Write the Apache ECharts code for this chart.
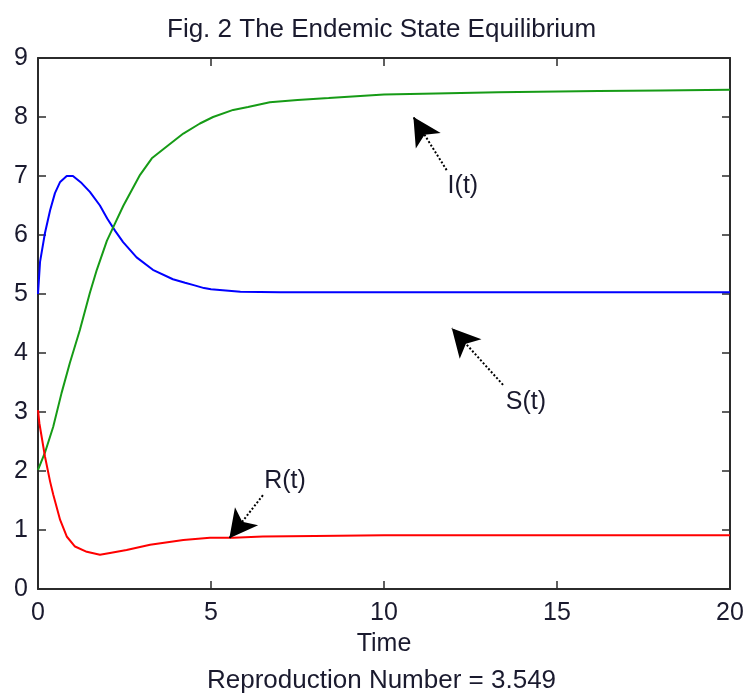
<!DOCTYPE html>
<html>
<head>
<meta charset="utf-8">
<script src="https://cdn.jsdelivr.net/npm/echarts@6/dist/echarts.min.js"></script>
<style>
html,body{margin:0;padding:0;background:#fff;}
#chart{width:747px;height:696px;}
</style>
</head>
<body>
<div id="chart"></div>
<script>
// ---- data ----
var titleText = 'Fig. 2 The Endemic State Equilibrium';
var xName = 'Time';
var footnote = 'Reproduction Number = 3.549';

var sTime  = [0, 0.06, 0.2, 0.35, 0.49, 0.64, 0.83, 1.01, 1.26, 1.5, 1.79, 2.0, 2.23, 2.46, 2.85, 3.32, 3.9, 4.25, 4.5, 4.8, 5.0, 5.85, 7, 10, 14, 20];
var sValue = [5.0, 5.55, 6.03, 6.42, 6.71, 6.90, 7.0, 7.0, 6.88, 6.73, 6.5, 6.28, 6.07, 5.88, 5.62, 5.41, 5.25, 5.19, 5.15, 5.10, 5.08, 5.04, 5.03, 5.03, 5.03, 5.03];

var iTime  = [0, 0.2, 0.44, 0.68, 0.92, 1.21, 1.5, 1.7, 1.99, 2.23, 2.47, 2.95, 3.29, 3.72, 4.2, 4.68, 5.06, 5.64, 6.07, 6.7, 7.5, 8.4, 10, 11.5, 13.3, 16.2, 18, 20];
var iValue = [2.02, 2.31, 2.75, 3.32, 3.83, 4.39, 5.02, 5.41, 5.9, 6.2, 6.5, 7.02, 7.30, 7.50, 7.72, 7.89, 8.0, 8.12, 8.17, 8.25, 8.29, 8.32, 8.38, 8.40, 8.42, 8.44, 8.45, 8.46];

var rTime  = [0, 0.04, 0.2, 0.35, 0.44, 0.64, 0.83, 1.07, 1.41, 1.79, 2.08, 2.56, 3.24, 4.2, 4.97, 5.64, 6.5, 8, 10, 14, 20];
var rValue = [3.03, 2.81, 2.25, 1.82, 1.6, 1.17, 0.89, 0.72, 0.63, 0.58, 0.61, 0.66, 0.75, 0.83, 0.87, 0.87, 0.89, 0.90, 0.91, 0.91, 0.91];

var xTicks = [0, 5, 10, 15, 20];
var yTicks = [0, 1, 2, 3, 4, 5, 6, 7, 8, 9];

// annotations: label, label position, arrow tail, arrow head
var annLabels = ['I(t)', 'S(t)', 'R(t)'];
var annText   = [[12.28, 6.83], [14.1, 3.17], [7.14, 1.83]];
var annTail   = [[11.81, 7.1], [13.44, 3.46], [6.5, 1.59]];
var annHead   = [[10.85, 8.0], [11.96, 4.42], [5.53, 0.86]];

function zip(a, b) { return a.map(function (v, i) { return [v, b[i]]; }); }

var FONT = 'Liberation Sans';
var AX = '#2b2b2b';
var TXT = '#1a1a2e';

var chart = echarts.init(document.getElementById('chart'));

function axisCommon(show) {
  return {
    show: true,
    axisLine: { show: true, onZero: false, lineStyle: { color: AX, width: 2 } },
    axisTick: { show: true, inside: true, length: 8, lineStyle: { color: AX, width: 1.5 } },
    splitLine: { show: false },
    axisLabel: { show: show, color: TXT, fontFamily: FONT, fontSize: 25 }
  };
}

var xb = Object.assign({ type: 'value', min: xTicks[0], max: xTicks[xTicks.length - 1], interval: 5, position: 'bottom', gridIndex: 0,
  name: xName, nameLocation: 'middle', nameGap: 43,
  nameTextStyle: { color: TXT, fontFamily: FONT, fontSize: 25 } }, axisCommon(true));
xb.axisLabel.margin = 12;
var xt = Object.assign({ type: 'value', min: xTicks[0], max: xTicks[xTicks.length - 1], interval: 5, position: 'top', gridIndex: 0 }, axisCommon(false));
var yl = Object.assign({ type: 'value', min: yTicks[0], max: yTicks[yTicks.length - 1], interval: 1, position: 'left', gridIndex: 0 }, axisCommon(true));
yl.axisLabel.margin = 10;
var yr = Object.assign({ type: 'value', min: yTicks[0], max: yTicks[yTicks.length - 1], interval: 1, position: 'right', gridIndex: 0 }, axisCommon(false));

var markLineData = annTail.map(function (t, i) {
  return [{ coord: t }, { coord: annHead[i] }];
});
var markPointData = annText.map(function (p, i) {
  return { name: annLabels[i], coord: p };
});

chart.setOption({
  animation: false,
  backgroundColor: '#ffffff',
  title: [
    { text: titleText, left: 162, top: 12,
      textStyle: { color: TXT, fontFamily: FONT, fontSize: 26, fontWeight: 'normal' } },
    { text: footnote, left: 202, top: 663,
      textStyle: { color: TXT, fontFamily: FONT, fontSize: 26, fontWeight: 'normal' } }
  ],
  grid: { left: 38, right: 17, top: 58, bottom: 107, outerBoundsMode: 'none' },
  xAxis: [xb, xt],
  yAxis: [yl, yr],
  series: [
    { name: 'S(t)', type: 'line', xAxisIndex: 0, yAxisIndex: 0, data: zip(sTime, sValue),
      showSymbol: false, symbol: 'none', lineStyle: { color: '#0000ff', width: 2 }, z: 3,
      markLine: {
        silent: true, symbol: ['none', 'arrow'], symbolSize: [22, 28],
        lineStyle: { color: '#000', type: 'dotted', width: 2 },
        label: { show: false },
        data: markLineData
      },
      markPoint: {
        silent: true, symbol: 'circle', symbolSize: 0,
        label: { show: true, position: 'inside', formatter: '{b}', color: TXT, fontFamily: FONT, fontSize: 25 },
        data: markPointData
      }
    },
    { name: 'I(t)', type: 'line', xAxisIndex: 0, yAxisIndex: 0, data: zip(iTime, iValue),
      showSymbol: false, symbol: 'none', lineStyle: { color: '#169b16', width: 2 }, z: 3 },
    { name: 'R(t)', type: 'line', xAxisIndex: 0, yAxisIndex: 0, data: zip(rTime, rValue),
      showSymbol: false, symbol: 'none', lineStyle: { color: '#ff0000', width: 2 }, z: 3 }
  ]
});
</script>
</body>
</html>
